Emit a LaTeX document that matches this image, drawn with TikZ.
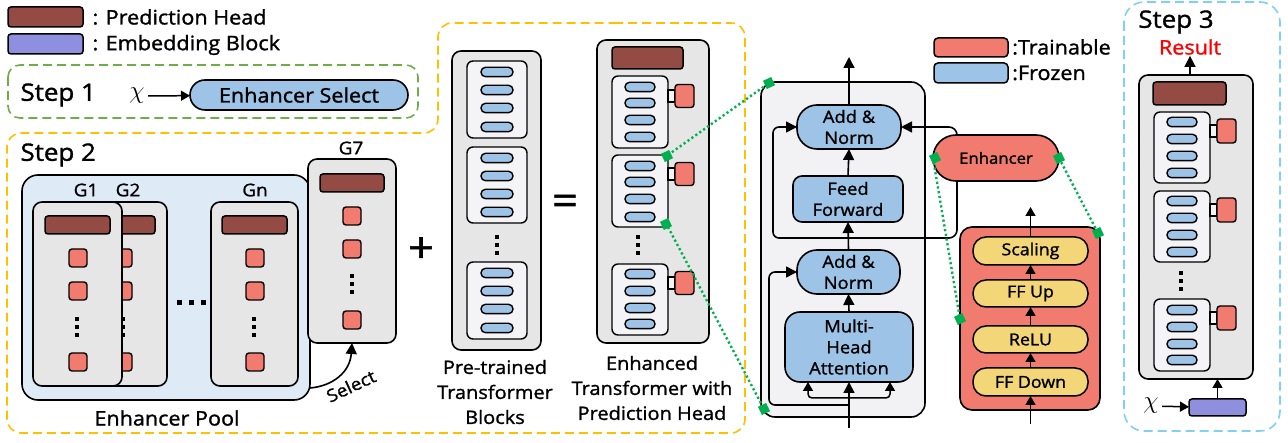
\documentclass[tikz,border=0pt]{standalone}
\usepackage{fontspec}
\setmainfont{Open Sans}[FakeStretch=1.08, FakeBold=1.3]
\usetikzlibrary{arrows.meta}
\definecolor{headc}{HTML}{944B43}
\definecolor{trainc}{HTML}{F07B6E}
\definecolor{frozc}{HTML}{9DC3E6}
\definecolor{embc}{HTML}{8F8FE0}
\definecolor{yelc}{HTML}{F2D677}
\definecolor{cardc}{HTML}{E6E6E6}
\definecolor{innerc}{HTML}{F4F4F6}
\definecolor{poolc}{HTML}{DEEAF6}
\definecolor{tfc}{HTML}{F2F2F5}
\definecolor{greenc}{HTML}{00B050}
\definecolor{orangec}{HTML}{FFC000}
\definecolor{stepgc}{HTML}{70AD47}
\definecolor{stepbc}{HTML}{7FD0F2}
\newcommand{\fL}{\fontsize{20}{23}\selectfont}
\newcommand{\fS}{\fontsize{24}{27}\selectfont}
\newcommand{\fG}{\fontsize{17.5}{20}\selectfont}
\newcommand{\fP}{\fontsize{18.5}{25}\selectfont}
\newcommand{\fT}{\fontsize{17}{21}\selectfont}
\newcommand{\fE}{\fontsize{15.5}{19}\selectfont}
\newcommand{\fY}{\fontsize{16.5}{19}\selectfont}
\newcommand{\fB}{\fontsize{42}{42}\selectfont}
% named box: name, style, x1, y1, x2, y2, text
\newcommand{\bx}[7]{%
  \pgfmathsetmacro{\bxw}{(#5)-(#3)}\pgfmathsetmacro{\bxh}{(#6)-(#4)}%
  \node[#2, minimum width=\bxw pt, minimum height=\bxh pt, inner sep=0pt, outer sep=0pt] (#1) at ({((#3)+(#5))/2},{((#4)+(#6))/2}) {#7};}
% unnamed box
\newcommand{\bxu}[5]{%
  \pgfmathsetmacro{\bxw}{(#4)-(#2)}\pgfmathsetmacro{\bxh}{(#5)-(#3)}%
  \node[#1, minimum width=\bxw pt, minimum height=\bxh pt, inner sep=0pt, outer sep=0pt] at ({((#2)+(#4))/2},{((#3)+(#5))/2}) {};}
% vertical dots
\newcommand{\vdts}[2]{\foreach \dd in {-8,0,8}{\fill ({#1-2},{#2+\dd-2}) rectangle ({#1+2},{#2+\dd+2});}}
% red square centred
\newcommand{\sqr}[3]{\bx{#1}{tsq}{#2-9}{#3-9}{#2+9}{#3+9}{}}
% transformer block: name, x1,y1,x2,y2, pill x1, pill x2, centres
\newcommand{\tblock}[8]{%
  \bx{#1}{inner}{#2}{#3}{#4}{#5}{}%
  \foreach \cc in {#8}{\bxu{pill}{#6}{\cc-4.7}{#7}{\cc+4.7}}}
% attached trainable square: name, block x2, sq x1, sq x2, centre y, height
\newcommand{\att}[6]{%
  \draw[line width=1.2pt, fill=innerc] (#2,{#5-6}) rectangle (#3,{#5+6});
  \bx{#1}{tsq}{#3}{#5-#6/2}{#4}{#5+#6/2}{}}
\newcommand{\gm}[2]{\node[gmark] at (#1,#2) {};}

\begin{document}
\begin{tikzpicture}[x=1pt,y=-1pt,
 lw/.style={line width=1.6pt},
 card/.style={draw, line width=1.6pt, fill=cardc, rounded corners=9pt},
 head/.style={draw, line width=1.5pt, fill=headc, rounded corners=3pt},
 tsq/.style={draw, line width=1.4pt, fill=trainc, rounded corners=3pt},
 pill/.style={draw, line width=1.4pt, fill=frozc, rounded corners=4.5pt},
 inner/.style={draw, line width=1.4pt, fill=innerc, rounded corners=6pt},
 blu/.style={draw, line width=1.6pt, fill=frozc, align=center, font=\fT},
 yel/.style={draw, line width=1.5pt, fill=yelc, rounded corners=13pt, font=\fY},
 arr/.style={-{Triangle[length=11pt,width=11pt]}, line width=1.6pt},
 sarr/.style={-{Triangle[length=9pt,width=10pt]}, line width=1.5pt},
 gdot/.style={draw=greenc, line width=2.4pt, dash pattern=on 2.2pt off 2.6pt},
 gmark/.style={fill=greenc, minimum size=9pt, inner sep=0pt, rotate=25},
 dsh/.style={line width=1.6pt, dash pattern=on 9pt off 5pt},
]
\useasboundingbox (0,0) rectangle (1288,443);

% ---------- legend ----------
\bx{lgh}{head}{8}{7}{83}{27}{}
\node[anchor=west, font=\fL] (lght) at (89,17) {: Prediction Head};
\bx{lge}{draw, line width=1.5pt, fill=embc, rounded corners=3pt}{8}{34}{83}{54}{}
\node[anchor=west, font=\fL] (lget) at (89,45) {: Embedding Block};

% ---------- step 1 ----------
\draw[stepgc, dsh, rounded corners=12pt] (8,65) rectangle (418,118);
\node[anchor=west, font=\fS] (s1) at (17,95) {Step 1};
\node[font=\fontsize{32}{32}\selectfont] (x1) at (137,96) {$\chi$};
\bx{esel}{draw, line width=1.6pt, fill=frozc, rounded corners=15pt, font=\fL}{190}{80}{408}{110}{Enhancer Select}
\draw[sarr] (x1) -- (esel);

% ---------- step 2 outline ----------
\draw[orangec, dsh, rounded corners=14pt] (600,23) -- (745,23) -- (745,433) -- (7,433) -- (7,133) -- (438,133) -- (438,23) -- cycle;
\node[anchor=west, font=\fS] (s2) at (17,155) {Step 2};

% pool
\bx{pool}{draw, line width=1.6pt, fill=poolc, rounded corners=16pt}{22}{175}{310}{400}{}
\node[font=\fL] (pooll) at (167,418) {Enhancer Pool};
% G2 (behind)
\bx{g2}{card}{78}{202}{167}{386}{}
\bx{g2h}{head}{90}{216}{155}{234}{}
\sqr{g2a}{123}{258}\sqr{g2b}{123}{291}\sqr{g2c}{123}{362}
\vdts{123}{327}
% G1
\bx{g1}{card}{33}{202}{122}{386}{}
\bx{g1h}{head}{45}{216}{110}{234}{}
\sqr{g1a}{78}{258}\sqr{g1b}{78}{291}\sqr{g1c}{78}{362}
\vdts{77}{327}
% Gn
\bx{gn}{card}{211}{202}{298}{386}{}
\bx{gnh}{head}{222}{216}{287}{234}{}
\sqr{gna}{255}{258}\sqr{gnb}{255}{291}\sqr{gnc}{255}{362}
\vdts{254}{327}
\node[font=\fG] (g1l) at (86,190) {G1};
\node[font=\fG] (g2l) at (128,190) {G2};
\node[font=\fG] (gnl) at (255,190) {Gn};
\foreach \hx in {179,191,203}{\fill (\hx-2.5,300.5) rectangle (\hx+2.5,305.5);}
% G7
\bx{g7}{card}{308}{159}{396}{343}{}
\node[font=\fG] (g7l) at (351,148) {G7};
\bx{g7h}{head}{320}{174}{384}{192}{}
\sqr{g7a}{352}{216}\sqr{g7b}{352}{249}\sqr{g7c}{352}{320}
\vdts{352}{284}
\draw[arr] ([yshift=12pt]pool.south east) .. controls (333,386) and (350,372) .. (g7.south);
\node[font=\fG, rotate=25, inner sep=0pt] (sel) at (351,386) {Select};

\node[font=\fB] (plus) at (421,250) {+};

% pre-trained column
\bx{pt}{card}{452}{51}{541}{350}{}
\tblock{pt1}{467}{61}{527}{138}{481}{513}{72,90,108,127}
\tblock{pt2}{467}{147}{527}{223}{481}{513}{158,176,194,212}
\tblock{pt3}{467}{262}{527}{339}{481}{513}{273,291,309,328}
\vdts{497}{245}
\node[font=\fP, align=center] (ptl) at (495,392) {Pre-trained\\Transformer\\Blocks};

\node[font=\fB] (eq) at (565,205) {=};

% enhanced column
\bx{et}{card}{597}{40}{709}{343}{}
\bx{eth}{head}{612}{47}{683}{69}{}
\tblock{et1}{612}{76}{668}{148}{625}{655}{87,103,120,137}
\tblock{et2}{612}{155}{668}{227}{625}{655}{166,182,199,217}
\tblock{et3}{612}{264}{668}{335}{625}{655}{274,291,308,324}
\vdts{638}{245}
\att{ets1}{668}{675}{694}{96}{23}
\att{ets2}{668}{675}{694}{174}{23}
\att{ets3}{668}{675}{694}{283}{23}
\node[font=\fP, align=center] (etl) at (652,388) {Enhanced\\Transformer with\\Prediction Head};

% ---------- transformer layer ----------
\bx{tf}{draw, line width=1.6pt, fill=tfc, rounded corners=14pt}{761}{82}{925}{417}{}
\bx{an2}{blu, rounded corners=20pt}{797}{105}{901}{149}{Add \&\\Norm}
\bx{ff}{blu, rounded corners=9pt}{793}{176}{903}{222}{Feed\\Forward}
\bx{an1}{blu, rounded corners=20pt}{797}{250}{900}{294}{Add \&\\Norm}
\bx{mha}{blu, rounded corners=15pt}{785}{312}{913}{382}{Multi-\\Head\\Attention}
\coordinate (tout) at (849,57);
\coordinate (tin) at (849,428);
\draw[arr] (an2.north) -- (tout);
\draw[arr] (ff.north) -- (an2.south);
\draw[arr] (an1.north) -- (ff.south);
\draw[arr] (mha.north) -- (an1.south);
\draw[arr] (tin) -- (mha.south);
\draw[sarr, rounded corners=4pt] (849,398) -| (808,382);
\draw[sarr, rounded corners=4pt] (849,398) -| (890,382);
\draw[arr, rounded corners=6pt] (849,405) -| (769,272) -- (an1.west);
\draw[arr, rounded corners=6pt] (849,238) -| (773,127) -- (an2.west);
\draw[arr, rounded corners=8pt] (849,238) -| (957,127) -- (an2.east);

% enhancer
\bx{enh}{draw, line width=1.6pt, fill=trainc, rounded corners=23pt, font=\fE}{933}{135}{1059}{181}{Enhancer}
\bx{ad}{draw, line width=1.6pt, fill=trainc, rounded corners=12pt}{960}{227}{1100}{410}{}
\bx{sc}{yel}{973}{237}{1088}{265}{Scaling}
\bx{up}{yel}{973}{280}{1088}{307}{FF Up}
\bx{relu}{yel}{973}{326}{1088}{353}{ReLU}
\bx{down}{yel}{973}{368}{1088}{396}{FF Down}
\coordinate (adout) at (1030.5,207);
\coordinate (adin) at (1030.5,424);
\draw[sarr] (sc.north) -- (adout);
\draw[sarr] (up.north) -- (sc.south);
\draw[sarr] (relu.north) -- (up.south);
\draw[sarr] (down.north) -- (relu.south);
\draw[sarr] (adin) -- (down.south);

% legend right
\bx{lgt}{draw, line width=1.5pt, fill=trainc, rounded corners=4pt}{934}{38}{1008}{57}{}
\node[anchor=west, font=\fL, inner sep=0pt] (lgtt) at (1012,47) {:Trainable};
\bx{lgf}{draw, line width=1.5pt, fill=frozc, rounded corners=4pt}{934}{63}{1008}{83}{}
\node[anchor=west, font=\fL, inner sep=0pt] (lgft) at (1012,73) {:Frozen};

% ---------- step 3 ----------
\draw[stepbc, dsh, rounded corners=20pt] (1124,2) rectangle (1280,431);
\node[font=\fS] (s3) at (1176,22) {Step 3};
\node[font=\fontsize{20}{22}\selectfont, text=red, inner sep=1pt] (res) at (1190,47) {Result};
\bx{fin}{card}{1139}{75}{1253}{379}{}
\bx{finh}{head}{1153}{82}{1226}{105}{}
\tblock{fb1}{1154}{112}{1210}{183}{1167}{1197}{122,139,156,173}
\tblock{fb2}{1154}{191}{1210}{262}{1167}{1197}{201,218,235,252}
\tblock{fb3}{1154}{299}{1210}{371}{1167}{1197}{310,327,344,360}
\vdts{1181}{281}
\att{fs1}{1210}{1217}{1236}{131}{24}
\att{fs2}{1210}{1217}{1236}{210}{24}
\att{fs3}{1210}{1217}{1236}{318}{24}
\draw[arr] (fin.north -| res.south) -- (res.south);
\node[font=\fontsize{32}{32}\selectfont] (x3) at (1151,406) {$\chi$};
\bx{emb3}{draw, line width=1.5pt, fill=embc, rounded corners=3pt}{1189}{399}{1246}{416}{}
\draw[sarr] (x3) -- (emb3);
\draw[sarr] (emb3.north) -- (emb3.north |- fin.south);

% ---------- green dotted links ----------
\draw[gdot] (et2.north east) -- (769,83);
\draw[gdot] (et2.south east) -- (764,409);
\draw[gdot] (enh.west) -- (960,319);
\draw[gdot] (enh.east) -- (1098,233);
\gm{667}{156}\gm{666}{224}\gm{769}{83}\gm{764}{409}
\gm{935}{158}\gm{1059}{158}\gm{960}{319}\gm{1098}{233}
\end{tikzpicture}
\end{document}
